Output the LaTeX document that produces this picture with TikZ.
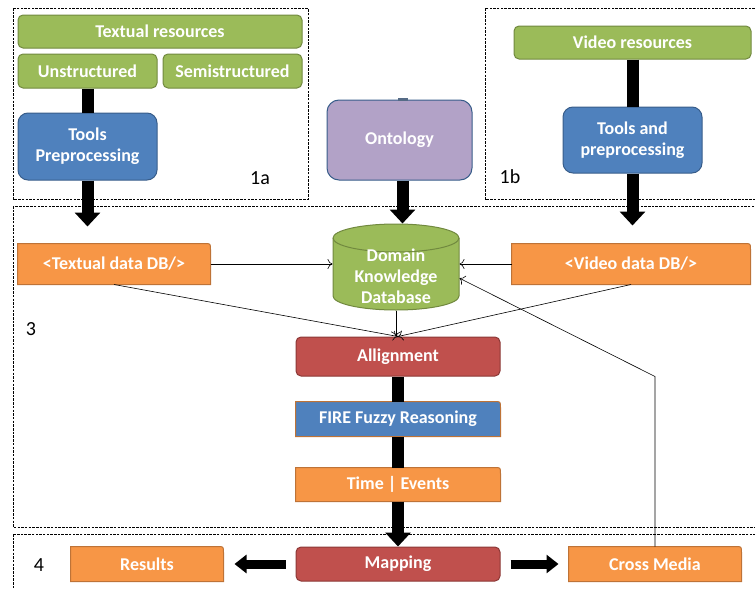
\documentclass[tikz,border=0pt]{standalone}
\usepackage{fontspec}
\setmainfont{Carlito}
\usetikzlibrary{arrows.meta,backgrounds}
\definecolor{node_green}{RGB}{155,187,89}
\definecolor{edge_green}{RGB}{113,137,63}
\definecolor{node_blue}{RGB}{79,129,189}
\definecolor{edge_blue}{RGB}{56,93,138}
\definecolor{node_purp}{RGB}{178,162,199}
\definecolor{node_orng}{RGB}{247,150,70}
\definecolor{edge_orng}{RGB}{190,115,55}
\definecolor{node_red}{RGB}{192,80,77}
\definecolor{edge_red}{RGB}{140,56,54}

\begin{document}
\begin{tikzpicture}[x=1pt,y=-1pt,semithick,>={To[length=5pt,width=10pt]}]
    \tikzstyle{box}=[minimum width=139pt,minimum height=34pt,inner sep=2pt,text=white,align=center,line width=1pt,font=\bfseries\fontsize{18}{21}\selectfont]
    \tikzstyle{res}=[box,rounded corners=5pt,fill=node_green,draw=edge_green]
    \tikzstyle{tool}=[box,rounded corners=10pt,fill=node_blue,draw=edge_blue]
    \tikzstyle{redbox}=[box,minimum width=204pt,rounded corners=5pt,fill=node_red,draw=edge_red]
    \tikzstyle{tabbox}=[box]
    \tikzstyle{cyl}=[line width=1pt,fill=node_green,draw=edge_green]
    \tikzstyle{area}=[dash pattern=on 2.5pt off 1.2pt,line width=0.6pt]
    \tikzstyle{areaname}=[text=black,inner sep=0pt,font=\fontsize{20}{22}\selectfont]
    \tikzstyle{fat}=[line width=12pt]
    \tikzstyle{fatarrow}=[fat,-{Triangle[width=25pt,length=14pt]}]
    \tikzstyle{midarrow}=[line width=9pt,-{Triangle[width=18pt,length=12pt]}]

    \useasboundingbox (0,0) rectangle (755,589);

    % dashed areas
    \draw[area] (13,8) rectangle (308,199);
    \draw[area] (485,8) rectangle (760,199);
    \draw[area] (13,206) rectangle (760,527);
    \draw[area] (13,534) rectangle (760,595);

    \node[res,minimum width=284pt,minimum height=33pt] (txtres) at (160,31.5) {Textual resources};
    \node[res]                       (unstr)  at (87.5,71)   {Unstructured};
    \node[res]                       (semi)   at (232.5,71)  {Semistructured};
    \node[tool,minimum height=67pt]  (tools1) at (87.5,146.5) {Tools\\Preprocessing};
    \node[res,minimum width=237pt,minimum height=33pt] (vidres) at (632.5,42.5) {Video resources};
    \node[tool,minimum height=66pt]  (tools2) at (632.5,140) {Tools and\\preprocessing};
    \node[box,minimum width=145pt,minimum height=80pt,rounded corners=12pt,fill=node_purp,draw=edge_blue] (onto) at (399.5,140) {Ontology};
    \fill[edge_blue!60!gray] (398,98) rectangle (408,100.5);

    \node[tabbox,minimum width=192pt,minimum height=40pt] (txtdb) at (114,264) {<Textual data DB/>};
    \node[tabbox,minimum width=238pt,minimum height=40pt] (viddb) at (631,264) {<Video data DB/>};
    \node[box,minimum width=126pt,minimum height=86pt] (db) at (396,267) {\mbox{}\\[11pt]Domain\\Knowledge\\Database};
    \node[redbox,minimum height=39pt] (align) at (398,356.5) {Allignment};
    \node[tabbox,minimum width=204pt] (fire) at (398,419) {FIRE Fuzzy Reasoning};
    \node[tabbox,minimum width=204pt,minimum height=33pt] (time) at (398,484.5) {Time | Events};
    \node[redbox]                    (map)     at (398,564) {Mapping};
    \node[tabbox,minimum width=152pt] (results) at (147,564) {Results};
    \node[tabbox,minimum width=172pt] (cross)   at (655,564) {Cross Media};

    \node[areaname] (l1a) at (260,178) {1a};
    \node[areaname] (l1b) at (510,177) {1b};
    \node[areaname] (l3)  at (31,329)  {3};
    \node[areaname] (l4)  at (39,565)  {4};

    % orange tab shapes behind the text
    \begin{scope}[on background layer]
    \foreach \n/\c in {txtdb/node_orng,viddb/node_orng,fire/node_blue,time/node_orng,results/node_orng,cross/node_orng}
      \draw[line width=1pt,draw=edge_orng,fill=\c] (\n.south west) -- (\n.north west) -- ([xshift=-6pt]\n.north east) .. controls (\n.north east) .. ([yshift=-6pt]\n.north east) -- (\n.south east) -- cycle;
    \end{scope}
    % database drum
    \begin{scope}[on background layer,shift={(db.center)},y=1pt]
      \draw[cyl] (-63,29) -- (-63,-29) arc[start angle=180,end angle=360,x radius=63,y radius=14] -- (63,29) arc[start angle=0,end angle=180,x radius=63,y radius=14] -- cycle;
      \draw[cyl,fill=none] (-63,29) arc[start angle=180,end angle=360,x radius=63,y radius=14];
    \end{scope}

    % thick flow
    \draw[fat] (unstr) -- (tools1);
    \draw[fatarrow,shorten >=17pt] (tools1.south) -- (tools1.south |- txtdb.north);
    \draw[fat] (vidres) -- (tools2);
    \draw[fatarrow,shorten >=18pt] (tools2.south) -- (tools2.south |- viddb.north);
    \draw[fatarrow] ([xshift=3pt]onto.south) -- ([xshift=3pt]onto.south |- db.north);
    \draw[fat] (align) -- (fire);
    \draw[fat] (fire) -- (time);
    \draw[fatarrow] (time) -- (map);
    \draw[midarrow,shorten <=10pt,shorten >=11pt] (map) -- (results);
    \draw[midarrow,shorten <=10pt,shorten >=10pt] (map) -- (cross);

    % thin links
    \draw[->] (txtdb.east) -- (txtdb.east -| db.west);
    \draw[->] (viddb.west) -- (viddb.west -| db.east);
    \draw[->] (txtdb.south) -- (align.north);
    \draw[->] (viddb.south) -- (align.north);
    \draw[->] (db.south) -- (db.south |- align.north);
    \draw[->] (cross.north) -- (cross.north |- align.south) -- (db.-10);
\end{tikzpicture}
\end{document}
